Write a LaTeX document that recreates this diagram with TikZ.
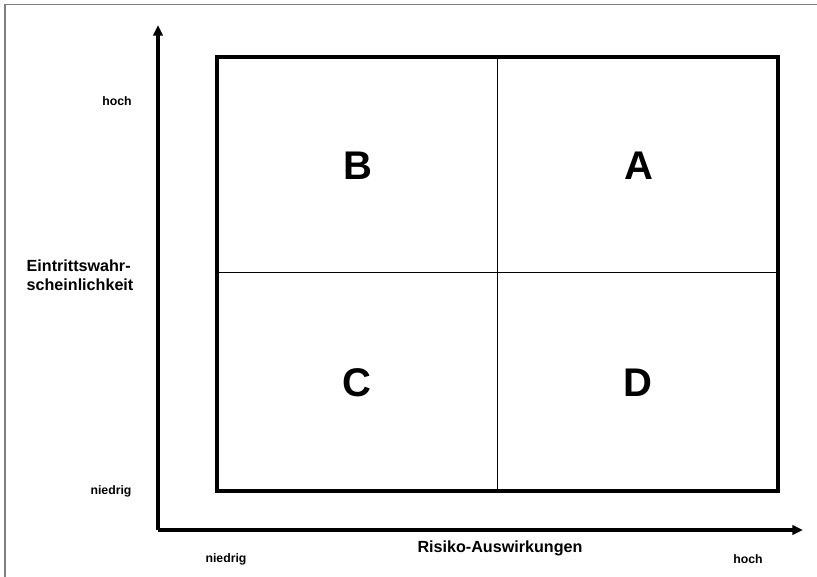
\documentclass[tikz,border=0pt]{standalone}
\usepackage{fontspec}
\setmainfont{Liberation Sans}
\usetikzlibrary{arrows.meta}

\begin{document}
\begin{tikzpicture}[x=0.75pt, y=0.75pt, line join=miter,
	font=\bfseries,
	axis/.style={line width=2.5pt, -{Triangle[length=8pt, width=7pt]}},
	quad/.style={font=\fontsize{30}{36}\selectfont\bfseries},
	tick/.style={font=\fontsize{9.2}{11}\selectfont\bfseries},
	title/.style={font=\fontsize{12.1}{14.5}\selectfont\bfseries, align=left}]
	% Bildgröße festlegen
	\useasboundingbox (0,0) rectangle (817,577);
	% Rahmen (oben und links)
	\draw[gray, line width=1.2pt] (5,0) -- (5,572.5) -- (817,572.5);
	% Ursprung und Achsenenden
	\coordinate (O) at (158,47);
	\coordinate (ytip) at (158,552);
	\coordinate (xtip) at (803,47);
	\draw[axis] (O) -- (ytip);
	\draw[axis] (O) -- (xtip);
	% Matrix mit vier Feldern
	\coordinate (SW) at (217,86);
	\coordinate (NE) at (778,520);
	\draw[line width=0.75pt] (497,86) -- (497,520);
	\draw[line width=0.75pt] (217,304) -- (778,304);
	\draw[line width=2.5pt] (SW) rectangle (NE);
	% Felder
	\node[quad] (qB) at (358,411) {B};
	\node[quad] (qA) at (639,411) {A};
	\node[quad] (qC) at (357,194) {C};
	\node[quad] (qD) at (638,194) {D};
	% Achsenbeschriftung
	\node[tick] (yhoch) at (117,476) {hoch};
	\node[tick] (yniedrig) at (111,86) {niedrig};
	\node[tick] (xniedrig) at (226,18) {niedrig};
	\node[tick] (xhoch) at (748,18) {hoch};
	\node[title] (xlabel) at (500,29) {Risiko-Auswirkungen};
	\node[title] (ylabel) at (80,302) {Eintrittswahr-\\scheinlichkeit};
\end{tikzpicture}
\end{document}
